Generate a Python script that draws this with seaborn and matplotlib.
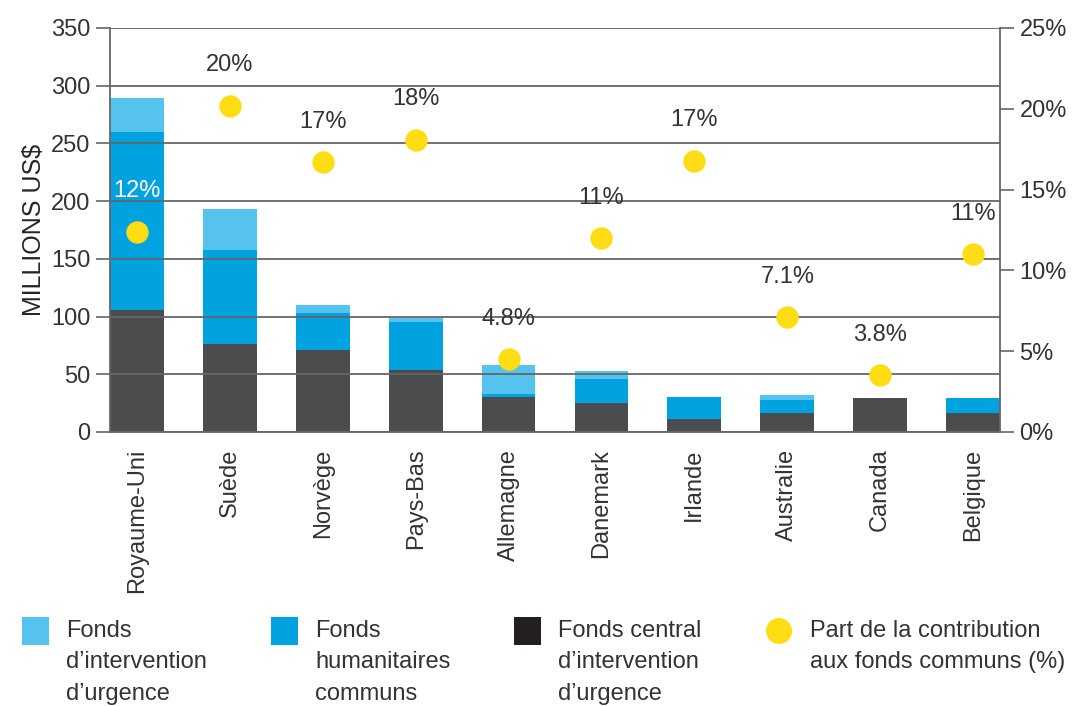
import matplotlib
matplotlib.use("Agg")
import matplotlib.pyplot as plt
from matplotlib.patches import Rectangle, Ellipse
import pandas as pd
import seaborn as sns

# data
countries = ["Royaume-Uni", "Suède", "Norvège", "Pays-Bas", "Allemagne",
             "Danemark", "Irlande", "Australie", "Canada", "Belgique"]
cerf = [106, 76, 71, 54, 30, 25, 11, 16.5, 29.5, 16.5]   # Fonds central d'intervention d'urgence
cbpf = [154, 82, 32, 41, 3, 21, 19, 11, 0, 13]           # Fonds humanitaires communs
erf = [29, 35, 7, 4, 25, 7, 0, 4.5, 0, 0]                # Fonds d'intervention d'urgence
share = [12.4, 20.2, 16.7, 18.1, 4.5, 12.0, 16.8, 7.1, 3.5, 11.0]
share_labels = ["12%", "20%", "17%", "18%", "4.8%", "11%", "17%", "7.1%", "3.8%", "11%"]

left_ticks = [0, 50, 100, 150, 200, 250, 300, 350]
right_ticks = [0, 5, 10, 15, 20, 25]

c_light = "#56c3ee"
c_blue = "#00a3e0"
c_dark = "#4b4c4e"
c_yellow = "#ffdd15"
c_text = "#333333"
c_grid = "#666666"

df = pd.DataFrame({"pays": countries, "cerf": cerf, "cbpf": cbpf, "erf": erf, "share": share})
df["mid"] = df["cerf"] + df["cbpf"]
df["total"] = df["mid"] + df["erf"]

sns.set_style("white")
plt.rcParams["font.family"] = ["Liberation Sans", "DejaVu Sans"]
plt.rcParams["text.color"] = c_text
plt.rcParams["xtick.color"] = c_grid
plt.rcParams["ytick.color"] = c_grid
plt.rcParams["xtick.labelcolor"] = c_text
plt.rcParams["ytick.labelcolor"] = c_text

W, H = 1074, 706
fig = plt.figure(figsize=(W / 100, H / 100), dpi=100)
ax = fig.add_axes([110 / W, 1 - 432 / H, 890 / W, 404 / H])

# stacked bars: draw totals first, then the lower parts on top
bw = 0.58
for col, c in [("total", c_light), ("mid", c_blue), ("cerf", c_dark)]:
    sns.barplot(data=df, x="pays", y=col, color=c, saturation=1, width=bw,
                linewidth=0, ax=ax, zorder=1)

ax.set_xlim(-bw / 2, len(countries) - 1 + bw / 2)
ax.set_ylim(0, 350)
ax.set_yticks(left_ticks)
ax.tick_params(axis="y", labelsize=17, length=10, width=1.2, pad=4)
ax.tick_params(axis="x", labelsize=17, length=0, pad=12, labelrotation=90)
ax.set_xlabel("")
ax.set_ylabel("MILLIONS US$", fontsize=18, labelpad=4)
ax.yaxis.grid(True, color=c_grid, linewidth=1.3)
ax.set_axisbelow(False)
for s in ["left", "bottom"]:
    ax.spines[s].set_color(c_grid)
    ax.spines[s].set_linewidth(1.3)
ax.spines["top"].set_visible(False)
ax.spines["right"].set_visible(False)

# share of contribution on the right axis
ax2 = ax.twinx()
sns.scatterplot(data=df, x="pays", y="share", color=c_yellow, s=260, linewidth=0, ax=ax2, zorder=5)
ax2.set_ylim(0, 25)
ax2.set_yticks(right_ticks)
ax2.set_yticklabels([f"{t}%" for t in right_ticks])
ax2.set_ylabel("")
ax2.tick_params(axis="y", labelsize=17, length=10, width=1.2, pad=4)
for s in ["top", "left", "bottom"]:
    ax2.spines[s].set_visible(False)
ax2.spines["right"].set_color(c_grid)
ax2.spines["right"].set_linewidth(1.3)

for i, (v, lab) in enumerate(zip(share, share_labels)):
    col = "white" if i == 0 else c_text
    ax2.annotate(lab, (i, v), xytext=(0, 29), textcoords="offset points",
                 ha="center", va="center", fontsize=17, color=col)

# legend drawn below the chart
items = [
    (22, "square", c_light, "Fonds\nd’intervention\nd’urgence"),
    (271, "square", c_blue, "Fonds\nhumanitaires\ncommuns"),
    (514, "square", "#231f20", "Fonds central\nd’intervention\nd’urgence"),
    (766, "circle", c_yellow, "Part de la contribution\naux fonds communs (%)"),
]
for x0, kind, col, lab in items:
    if kind == "square":
        fig.add_artist(Rectangle((x0 / W, 1 - 645 / H), 27 / W, 28 / H,
                                 transform=fig.transFigure, color=col, lw=0))
    else:
        fig.add_artist(Ellipse(((x0 + 13) / W, 1 - 631 / H), 26 / W, 26 / H,
                               transform=fig.transFigure, color=col, lw=0))
    fig.text((x0 + 44) / W, 1 - 620 / H, lab, fontsize=17, va="top", ha="left",
             linespacing=1.55, color=c_text)

fig.savefig("out.png", dpi=100)
